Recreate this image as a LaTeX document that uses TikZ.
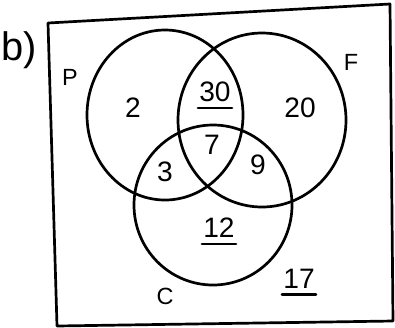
\documentclass[tikz,border=0pt]{standalone}
\usepackage{fontspec}
\setmainfont{Liberation Sans}
\usetikzlibrary{positioning}

\begin{document}
\begin{tikzpicture}[x=0.03cm,y=-0.03cm,
  pen/.style={line width=2.3pt,line cap=round,line join=round},
  num/.style={font=\fontsize{24}{28}\selectfont,inner sep=1pt},
  setname/.style={font=\fontsize{20}{24}\selectfont,inner sep=1pt}]

\useasboundingbox (0,0) rectangle (395,327);

% Outer box (universal set)
\draw[pen] (48,23) -- (390,4) -- (393,321) -- (57,326) -- cycle;

% Part label
\node[font=\fontsize{34}{38}\selectfont,inner sep=0pt] (part) at (19,50) {b)};

% Circles P, F and C
\draw[pen] (165,115) ellipse [x radius=78, y radius=85];
\draw[pen] (262,120) ellipse [x radius=84, y radius=87];
\draw[pen] (213,205) ellipse [x radius=79, y radius=80];

% Set names
\node[setname] (nameP) at (70,77) {P};
\node[setname] (nameF) at (351,62) {F};
\node[setname] (nameC) at (165,296) {C};

% Region counts
\node[num] (onlyP) at (133,108) {2};
\node[num] (PF) at (215,92) {30};
\node[num] (onlyF) at (300,108) {20};
\node[num] (PFC) at (212,145) {7};
\node[num] (PC) at (165,172) {3};
\node[num] (FC) at (258,165) {9};
\node[num] (onlyC) at (219,228) {12};
\node[num] (none) at (299,279) {17};

% Underlines
\draw[pen] ([yshift=-4pt]PF.south west) -- ([yshift=-4pt]PF.south east);
\draw[pen] ([yshift=-4pt]onlyC.south west) -- ([yshift=-4pt]onlyC.south east);
\draw[pen] ([yshift=-4pt]none.south west) -- ([yshift=-4pt]none.south east);

\end{tikzpicture}
\end{document}
